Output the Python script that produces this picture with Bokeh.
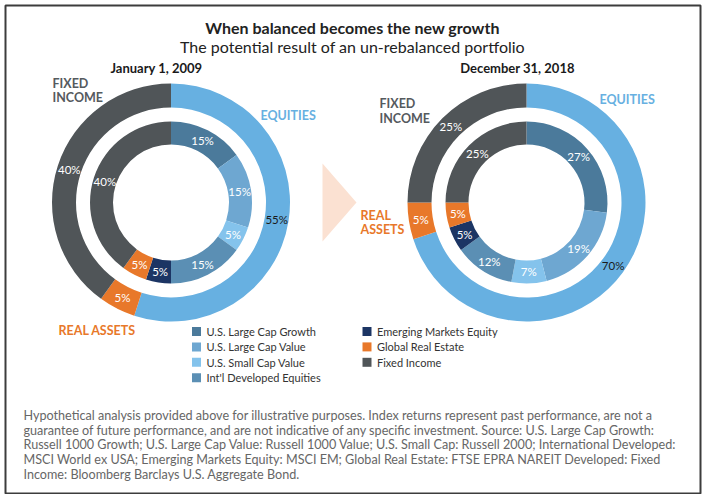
import math
from bokeh.plotting import figure
from bokeh.models import Range1d, ColumnDataSource
from bokeh.core.properties import value
from bokeh.embed import file_html
from bokeh.resources import INLINE

# ---------------- data ----------------
inner_categories = ["U.S. Large Cap Growth", "U.S. Large Cap Value", "U.S. Small Cap Value",
                    "Int'l Developed Equities", "Emerging Markets Equity", "Global Real Estate",
                    "Fixed Income"]
inner_colors = ["#4b7a9b", "#6ea7d1", "#84c3ec", "#5b8fb4", "#1c3564", "#e8782a", "#505558"]
inner_2009 = [15, 15, 5, 15, 5, 5, 40]
inner_2018 = [27, 19, 7, 12, 5, 5, 25]

outer_categories = ["EQUITIES", "REAL ASSETS", "FIXED INCOME"]
outer_colors = ["#67b0e1", "#e8782a", "#505558"]
outer_2009 = [55, 5, 40]
outer_2018 = [70, 5, 25]

dates = ["January 1, 2009", "December 31, 2018"]
title = "When balanced becomes the new growth"
subtitle = "The potential result of an un-rebalanced portfolio"
footnote = [
    "Hypothetical analysis provided above for illustrative purposes. Index returns represent past performance, are not a",
    "guarantee of future performance, and are not indicative of any specific investment. Source: U.S. Large Cap Growth:",
    "Russell 1000 Growth; U.S. Large Cap Value: Russell 1000 Value; U.S. Small Cap: Russell 2000; International Developed:",
    "MSCI World ex USA; Emerging Markets Equity: MSCI EM; Global Real Estate: FTSE EPRA NAREIT Developed: Fixed",
    "Income: Bloomberg Barclays U.S. Aggregate Bond.",
]

# ---------------- layout ----------------
W, H = 702, 494
FONT = "Lato"


def X(sx):
    return sx


def Y(sy):
    return H - sy


p = figure(width=W, height=H, x_range=Range1d(0, W), y_range=Range1d(0, H),
           output_backend="svg", toolbar_location=None, min_border=0)
p.axis.visible = False
p.grid.visible = False
p.outline_line_color = None
p.background_fill_color = "white"

# frame
p.quad(left=[X(5)], right=[X(700)], top=[Y(5)], bottom=[Y(493)], fill_color=None,
       line_color="#3c3c3c", line_width=2)

R_OUT = (95, 119)
R_IN = (58, 81)
centers = [(X(170.5), Y(202)), (X(526), Y(202))]


def ring(cx, cy, vals, colors, r0, r1, label_colors):
    total = float(sum(vals))
    cum = 0.0
    starts, ends, mids = [], [], []
    for v in vals:
        f0 = cum / total
        cum += v
        f1 = cum / total
        starts.append(math.pi / 2 - 2 * math.pi * f0)
        ends.append(math.pi / 2 - 2 * math.pi * f1)
        mids.append((f0 + f1) / 2)
    src = ColumnDataSource(dict(x=[cx] * len(vals), y=[cy] * len(vals), s=starts, e=ends, c=colors))
    p.annular_wedge(x="x", y="y", inner_radius=r0, outer_radius=r1, start_angle="s", end_angle="e",
                    direction="clock", fill_color="c", line_color=None, source=src,
                    inner_radius_units="screen", outer_radius_units="screen")
    rm = (r0 + r1) / 2
    lx = [cx + rm * math.sin(2 * math.pi * m) for m in mids]
    ly = [cy + rm * math.cos(2 * math.pi * m) for m in mids]
    lt = ["%d%%" % v for v in vals]
    p.text(x=lx, y=ly, text=lt, text_color=label_colors, text_align="center",
           text_baseline="middle", text_font=value(FONT), text_font_size="11.5px")


for (cx, cy), inner, outer in zip(centers, [inner_2009, inner_2018], [outer_2009, outer_2018]):
    ring(cx, cy, outer, outer_colors, R_OUT[0], R_OUT[1], ["#1a1a1a", "white", "white"])
    ring(cx, cy, inner, inner_colors, R_IN[0], R_IN[1], ["white"] * len(inner))

# arrow between the donuts
p.patch(x=[X(322), X(356), X(322)], y=[Y(163), Y(202), Y(241)], fill_color="#fbe1d2", line_color=None)

# titles
p.text(x=[X(352)], y=[Y(27)], text=[title], text_font=value(FONT), text_font_style="bold",
       text_font_size="16px", text_color="#222222", text_align="center", text_baseline="middle")
p.text(x=[X(352)], y=[Y(46)], text=[subtitle], text_font=value(FONT),
       text_font_size="16px", text_color="#222222", text_align="center", text_baseline="middle")
p.text(x=[X(156), X(517)], y=[Y(67), Y(67)], text=dates, text_font=value(FONT), text_font_style="bold",
       text_font_size="13px", text_color="#1a1a1a", text_align="center", text_baseline="middle")


# ring group labels
def group_label(sx, sys_, lines, color):
    p.text(x=[X(sx)] * len(lines), y=[Y(s) for s in sys_], text=lines, text_font=value(FONT),
           text_font_style="bold", text_font_size="12.5px", text_color=color,
           text_align="left", text_baseline="middle")


group_label(52, [83, 97], ["FIXED", "INCOME"], "#555a5e")
group_label(260, [115], [outer_categories[0]], outer_colors[0])
group_label(58, [330], [outer_categories[1]], outer_colors[1])
group_label(379, [103, 118], ["FIXED", "INCOME"], "#555a5e")
group_label(599, [99], [outer_categories[0]], outer_colors[0])
group_label(360, [215, 229], ["REAL", "ASSETS"], outer_colors[1])

# legend
lx, ly = [], []
for i in range(len(inner_categories)):
    col, row = (0, i) if i < 4 else (1, i - 4)
    lx.append(X(196 + col * 170.5))
    ly.append(Y(331 + row * 15.4))
p.rect(x=lx, y=ly, width=9, height=9, width_units="screen", height_units="screen",
       fill_color=inner_colors, line_color=None)
p.text(x=[x + 10 for x in lx], y=ly, text=inner_categories, text_font=value(FONT),
       text_font_size="11px", text_color="#333333", text_align="left", text_baseline="middle")

# footnote
p.text(x=[X(23)] * len(footnote), y=[Y(415 + i * 14.7) for i in range(len(footnote))], text=footnote,
       text_font=value(FONT), text_font_size="12.6px", text_color="#666666",
       text_align="left", text_baseline="middle")

open("out.html", "w").write(file_html(p, INLINE))
